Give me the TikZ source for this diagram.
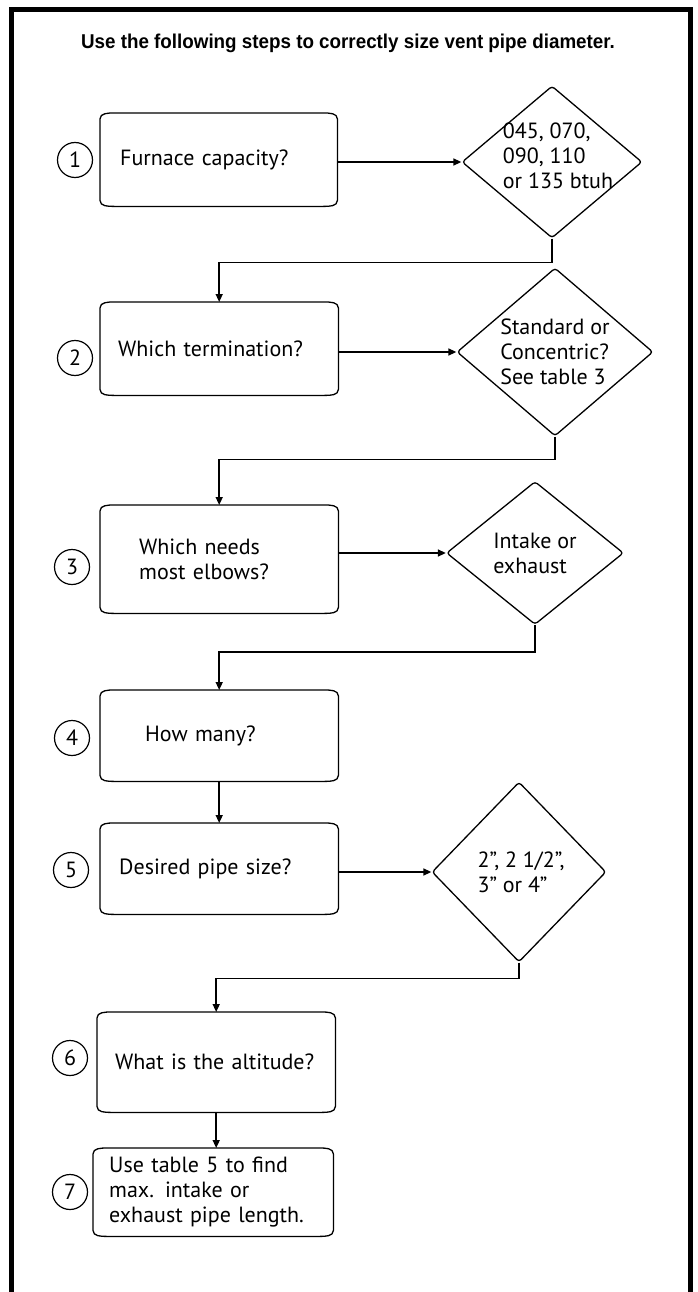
\documentclass[tikz,border=0pt]{standalone}
\usepackage{fontspec}
\setmainfont{PT Sans}[Ligatures=ResetAll]
\newfontfamily\titlefont[FakeStretch=0.94]{Liberation Sans}
\usetikzlibrary{shapes.geometric,arrows.meta}
\newcommand\boxline[1]{%
  \draw[line width=1.3pt]
    ([yshift=-6pt]#1.north west) to[out=90,in=180] ([xshift=14pt]#1.north west)
    -- ([xshift=-14pt]#1.north east) to[out=0,in=90] ([yshift=-6pt]#1.north east)
    -- ([yshift=6pt]#1.south east) to[out=-90,in=0] ([xshift=-14pt]#1.south east)
    -- ([xshift=14pt]#1.south west) to[out=180,in=-90] ([yshift=6pt]#1.south west)
    -- cycle;}
\begin{document}
\begin{tikzpicture}[x=1pt,y=-1pt,
  txt/.style={font=\fontsize{22}{25}\selectfont},
  stepbox/.style={txt, rectangle, inner ysep=0pt, align=left, anchor=north west},
  dec/.style={shape=diamond, draw, line width=1.3pt, rounded corners=3pt, inner sep=0pt},
  dectext/.style={txt, align=left},
  num/.style={circle, draw, line width=1.2pt, minimum size=35pt, inner sep=0pt, font=\fontsize{22}{25}\selectfont},
  conn/.style={line width=1.5pt, -{Triangle[length=8pt,width=7pt]}},
  frame/.style={line width=5.5pt}
]
\useasboundingbox (0,0) rectangle (697,1292);
\draw[frame] (11.5,1292) -- (11.5,9.5) -- (690.5,9.5) -- (690.5,1292);

\node[font=\titlefont\bfseries\fontsize{20}{22}\selectfont] (title) at (348,43)
  {Use the following steps to correctly size vent pipe diameter.};

% step boxes
\node[stepbox, minimum width=237pt, minimum height=93pt, inner xsep=20pt, text width=197pt] (b1) at (100,113) {\mbox{Furnace capacity?}};
\node[stepbox, minimum width=238pt, minimum height=93pt, inner xsep=18pt, text width=202pt] (b2) at (100,302) {\mbox{Which termination?}};
\node[stepbox, minimum width=238pt, minimum height=108pt, inner xsep=39pt, text width=160pt] (b3) at (100,505) {\mbox{Which needs}\\\mbox{most elbows?}};
\node[stepbox, minimum width=238pt, minimum height=91pt, inner xsep=45pt, text width=148pt] (b4) at (100,690) {\mbox{How many?}};
\node[stepbox, minimum width=238pt, minimum height=91pt, inner xsep=19pt, text width=200pt] (b5) at (100,823) {\mbox{Desired pipe size?}};
\node[stepbox, minimum width=238pt, minimum height=100pt, inner xsep=18pt, text width=202pt] (b6) at (97,1012) {\mbox{What is the altitude?}};
\node[stepbox, minimum width=240pt, minimum height=88pt, inner xsep=16pt, text width=208pt] (b7) at (93,1148) {\mbox{Use table 5 to find}\\\mbox{max. intake or}\\\mbox{exhaust pipe length.}};
\boxline{b1}\boxline{b2}\boxline{b3}\boxline{b4}\boxline{b5}\boxline{b6}\boxline{b7}

% numbers
\node[num] (n1) at (75,160) {1};
\node[num] (n2) at (75,358) {2};
\node[num] (n3) at (72,567) {3};
\node[num] (n4) at (72,738) {4};
\node[num] (n5) at (71,870) {5};
\node[num] (n6) at (70,1058) {6};
\node[num] (n7) at (70,1192) {7};

% decisions
\node[dec, minimum width=180pt, minimum height=152pt,
  label={[dectext, xshift=6pt, yshift=6pt]center:{045, 070,\\090, 110\\or 135 btuh}}] (d1) at (552,162) {};
\node[dec, minimum width=196pt, minimum height=168pt,
  label={[dectext]center:{Standard or\\Concentric?\\See table 3}}] (d2) at (555,352) {};
\node[dec, minimum width=177pt, minimum height=143pt,
  label={[dectext]center:{Intake or\\exhaust}}] (d3) at (535,553) {};
\node[dec, minimum width=174pt, minimum height=180pt,
  label={[dectext, xshift=2pt]center:{2", 2 1/2",\\3" or 4"}}] (d4) at (519,872) {};

% connectors
\draw[conn] (b1.east |- d1.west) -- (d1.west);
\draw[conn] (b2.east |- d2.west) -- (d2.west);
\draw[conn] (b3.east |- d3.west) -- (d3.west);
\draw[conn] (b5.east |- d4.west) -- (d4.west);
\draw[conn] (d1.south) -- ++(0,24) -| (b2.north);
\draw[conn] (d2.south) -- ++(0,23) -| (b3.north);
\draw[conn] (d3.south) -- ++(0,27) -| (b4.north);
\draw[conn] (b4.south) -- (b5.north);
\draw[conn] (d4.south) -- ++(0,16) -| (b6.north);
\draw[conn] (b6.south) -- (b6.south |- b7.north);
\end{tikzpicture}
\end{document}
